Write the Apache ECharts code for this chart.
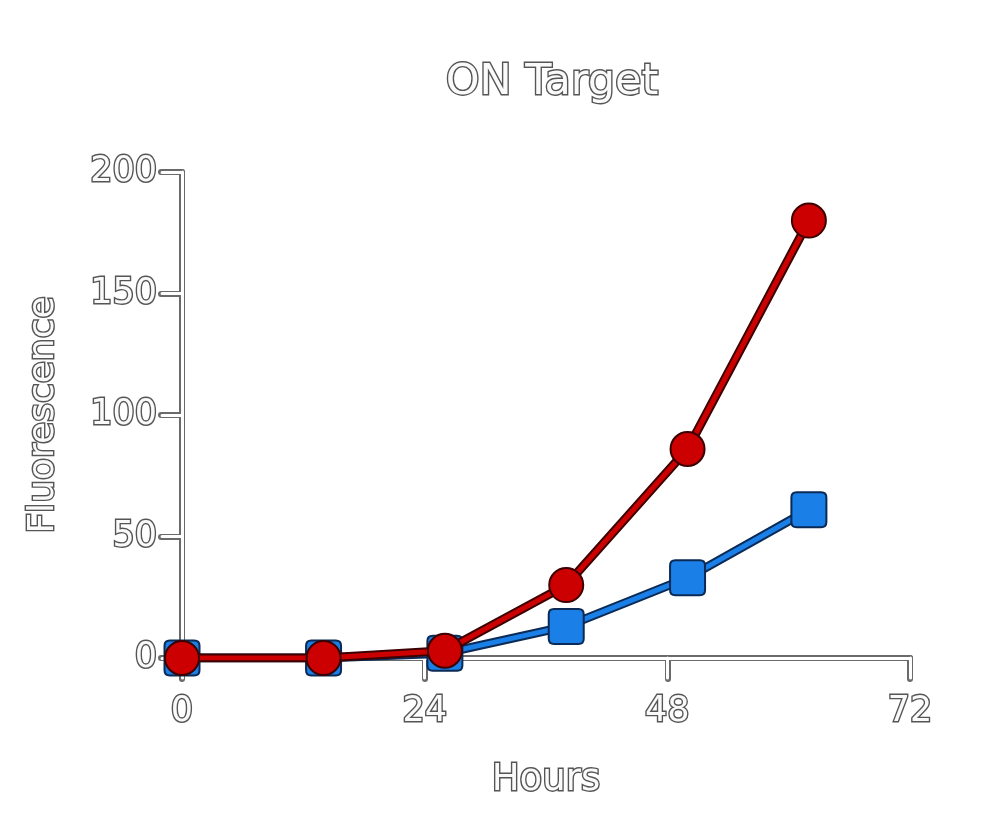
<!DOCTYPE html>
<html><head><meta charset="utf-8">
<script src="https://cdn.jsdelivr.net/npm/echarts@6/dist/echarts.min.js"></script>
<style>html,body{margin:0;padding:0;background:#fff}#c{width:1000px;height:818px}</style>
</head><body><div id="c"></div>
<script>
const hours = [0, 14, 26, 38, 50, 62];
const redValues = [0, 0, 3, 30, 86, 180];
const blueValues = [0, 0, 2, 13, 33, 61];
const xTicks = [0, 24, 48, 72];
const yTicks = [0, 50, 100, 150, 200];
const titleText = 'ON Target';
const xName = 'Hours';
const yName = 'Fluorescence';

const FONT = '"DejaVu Sans", sans-serif';
const outline = {color:'#fafafa', textBorderColor:'#555', textBorderWidth:2.8, fontFamily:FONT};
const pairs = (vals) => hours.map((h,i)=>[h, vals[i]]);

function axisPair(kind, labels, margin) {
  const base = {
    type:'value', min:0, max: kind==='x'?72:200, interval: kind==='x'?24:50,
    splitLine:{show:false},
    axisTick:{show:true, length:21, lineStyle:{width:6, color:'#6a6a6a', cap:'round'}},
    axisLine:{show:true, lineStyle:{width:6, color:'#6a6a6a', cap:'round'}},
    axisLabel:{show:false}
  };
  const a = JSON.parse(JSON.stringify(base));
  const b = JSON.parse(JSON.stringify(base));
  b.axisTick.lineStyle = {width:3, color:'#fff', cap:'round'};
  b.axisTick.length = 20;
  b.axisLine.lineStyle = {width:3, color:'#fff', cap:'round'};
  b.z = 1;
  b.axisLabel = Object.assign({show:true, fontSize:35, margin:margin}, outline);
  b.axisLabel.formatter = (v)=> labels.indexOf(v)>=0 ? String(v) : '';
  return [a,b];
}
const xs = axisPair('x', xTicks, 36);
const ys = axisPair('y', yTicks, 25);
xs[1].name = xName; xs[1].nameLocation='middle'; xs[1].nameGap=104;
xs[1].nameTextStyle = Object.assign({fontSize:37}, outline);
ys[1].name = yName; ys[1].nameLocation='middle'; ys[1].nameGap=120;
ys[1].nameTextStyle = Object.assign({fontSize:36}, outline);

const sq = 'path://M3,0 H17 Q20,0 20,3 V17 Q20,20 17,20 H3 Q0,20 0,17 V3 Q0,0 3,0 Z';

const chart = echarts.init(document.getElementById('c'), null, {renderer:'canvas'});
chart.setOption({
  backgroundColor:'#fff',
  animation:false,
  title:{text:titleText, left:547, textAlign:'center', top:56,
    textStyle:Object.assign({fontSize:43, fontWeight:'normal'}, outline)},
  grid:{left:182, right:90, top:172, bottom:160, containLabel:false},
  xAxis: xs.map((a)=>Object.assign(a,{gridIndex:0, position:'bottom'})),
  yAxis: ys.map((a)=>Object.assign(a,{gridIndex:0, position:'left'})),
  series:[
    {type:'line', data:pairs(blueValues), showSymbol:false, z:3,
      lineStyle:{width:9, color:'#0b2a55'}, silent:true},
    {type:'line', data:pairs(blueValues), symbol:sq, symbolSize:35, z:4,
      lineStyle:{width:5, color:'#1a7fe6'},
      itemStyle:{color:'#1a7fe6', borderColor:'#0b2a55', borderWidth:2}},
    {type:'line', data:pairs(redValues), showSymbol:false, z:5,
      lineStyle:{width:9, color:'#3d0000'}, silent:true},
    {type:'line', data:pairs(redValues), symbol:'circle', symbolSize:34, z:6,
      lineStyle:{width:5, color:'#cc0000'},
      itemStyle:{color:'#cc0000', borderColor:'#3d0000', borderWidth:2}}
  ]
});
</script></body></html>
